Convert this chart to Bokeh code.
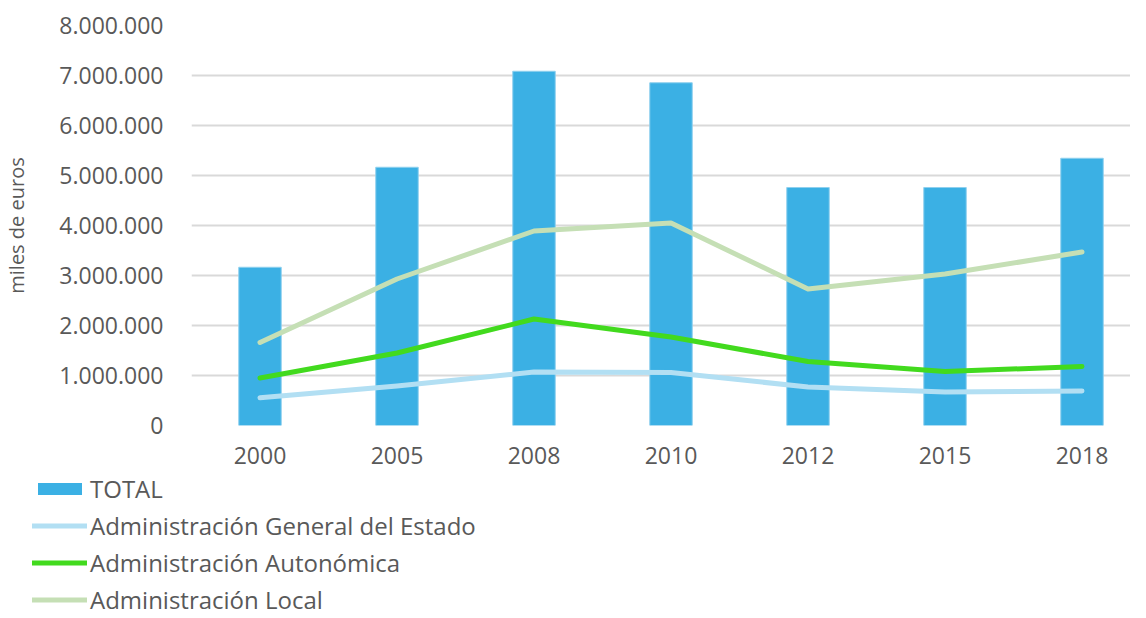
from bokeh.plotting import figure
from bokeh.models import ColumnDataSource, Range1d, FixedTicker, Legend, LegendItem
from bokeh.layouts import column
from bokeh.embed import file_html
from bokeh.resources import INLINE

years = ["2000", "2005", "2008", "2010", "2012", "2015", "2018"]
total = [3165000, 5165000, 7085000, 6855000, 4760000, 4760000, 5345000]
age = [555000, 790000, 1070000, 1060000, 770000, 670000, 690000]
autonomica = [950000, 1450000, 2130000, 1770000, 1280000, 1080000, 1180000]
local = [1660000, 2930000, 3890000, 4050000, 2730000, 3030000, 3470000]
y_ticks = [0, 1000000, 2000000, 3000000, 4000000, 5000000, 6000000, 7000000, 8000000]
series_names = ["TOTAL", "Administración General del Estado", "Administración Autonómica", "Administración Local"]

FONT = "Open Sans"
TXT = "#595959"
C_TOTAL = "#3BB0E4"
C_AGE = "#B2DFF3"
C_AUT = "#42DA1E"
C_LOC = "#C5DFB5"

idx = list(range(len(years)))
src = ColumnDataSource(dict(x=idx, total=total, age=age, aut=autonomica, loc=local))

p = figure(width=1130, height=471, output_backend="svg", toolbar_location=None,
           x_range=Range1d(-0.5, 6.354), y_range=Range1d(0, 8000000),
           min_border_left=179, min_border_top=25, min_border_right=0, min_border_bottom=46)
p.outline_line_color = None

p.vbar(x="x", top="total", width=0.31, source=src, fill_color=C_TOTAL, line_color="#8FD0EE", line_width=1)
for col, c in (("age", C_AGE), ("aut", C_AUT), ("loc", C_LOC)):
    p.line(x="x", y=col, source=src, line_color=c, line_width=5, line_cap="round", line_join="round")

p.xaxis.ticker = FixedTicker(ticks=idx)
p.xaxis.major_label_overrides = {i: y for i, y in zip(idx, years)}
p.yaxis.ticker = FixedTicker(ticks=y_ticks)
p.yaxis.major_label_overrides = {t: f"{t:,}".replace(",", ".") for t in y_ticks}
for ax in (p.xaxis, p.yaxis):
    ax.axis_line_color = None
    ax.major_tick_line_color = None
    ax.minor_tick_line_color = None
    ax.major_label_text_font = FONT
    ax.major_label_text_font_size = "23px"
    ax.major_label_text_color = TXT
p.xaxis.major_label_standoff = 15
p.yaxis.major_label_standoff = 22
p.yaxis.axis_label = "miles de euros"
p.yaxis.axis_label_text_font = FONT
p.yaxis.axis_label_text_font_size = "20px"
p.yaxis.axis_label_text_font_style = "normal"
p.yaxis.axis_label_text_color = TXT
p.yaxis.axis_label_standoff = 26

p.xgrid.grid_line_color = None
p.ygrid.grid_line_color = "#D9D9D9"
p.ygrid.grid_line_width = 2

# legend strip below the chart (glyph samples lie outside its ranges)
p2 = figure(width=1130, height=146, output_backend="svg", toolbar_location=None,
            x_axis_type=None, y_axis_type=None,
            x_range=Range1d(0, 1), y_range=Range1d(0, 1),
            min_border_left=0, min_border_top=0, min_border_right=0, min_border_bottom=0)
p2.grid.visible = False
p2.outline_line_color = None
r0 = p2.vbar(x=[10], top=[10], width=0.3, fill_color=C_TOTAL, line_color=None)
r1 = p2.line(x=[10, 11], y=[10, 11], line_color=C_AGE, line_width=5, line_cap="round")
r2 = p2.line(x=[10, 11], y=[10, 11], line_color=C_AUT, line_width=5, line_cap="round")
r3 = p2.line(x=[10, 11], y=[10, 11], line_color=C_LOC, line_width=5, line_cap="round")
legend = Legend(items=[LegendItem(label=n, renderers=[r]) for n, r in zip(series_names, [r0, r1, r2, r3])],
                orientation="vertical", location=(32, 1))
legend.border_line_color = None
legend.background_fill_alpha = 0
legend.label_text_font = FONT
legend.label_text_font_size = "24px"
legend.label_text_color = TXT
legend.glyph_width = 55
legend.glyph_height = 15
legend.label_height = 20
legend.label_standoff = 3
legend.spacing = 4
legend.padding = 0
legend.margin = 0
p2.add_layout(legend, "center")

layout = column(p, column(p2), spacing=0)
open("out.html", "w").write(file_html(layout, INLINE))
